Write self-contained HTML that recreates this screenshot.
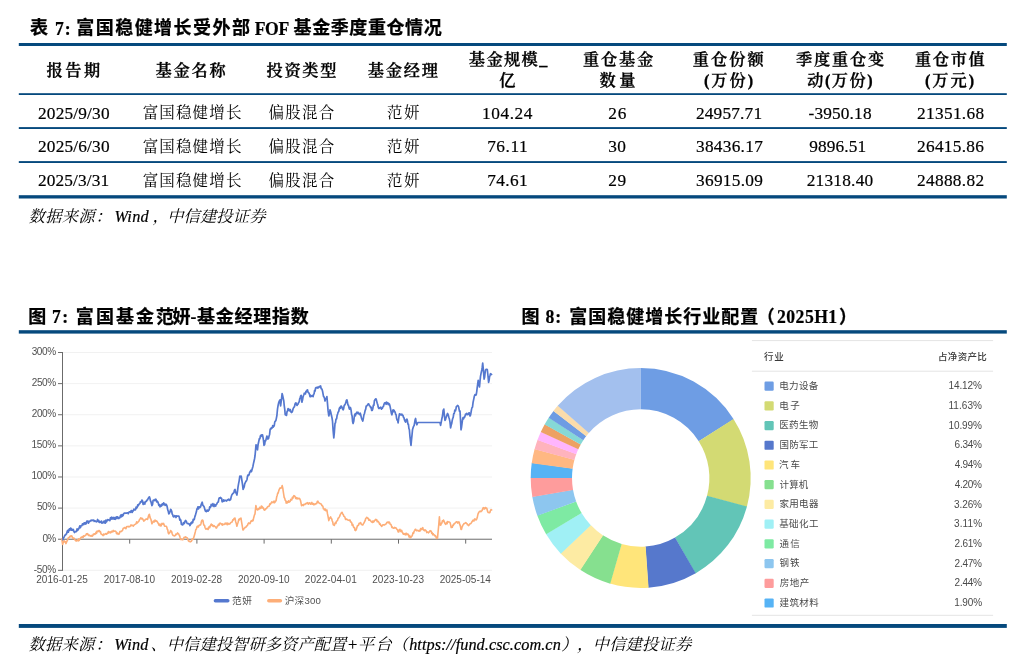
<!DOCTYPE html>
<html lang="zh-CN"><head><meta charset="utf-8"><title>富国稳健增长</title>
<style>html,body{margin:0;padding:0;background:#fff}body{width:1024px;height:660px;overflow:hidden}svg{display:block}text{white-space:pre}</style></head><body>
<svg width="1024" height="660" viewBox="0 0 1024 660">
<rect width="1024" height="660" fill="#fff"/>
<g id="rules">
<rect x="18.8" y="43.0" width="988.0" height="3.00" fill="#05497d"/>
<rect x="18.8" y="93.2" width="988.0" height="1.80" fill="#05497d"/>
<rect x="18.8" y="127.1" width="988.0" height="1.90" fill="#05497d"/>
<rect x="18.8" y="161.1" width="988.0" height="1.90" fill="#05497d"/>
<rect x="18.8" y="195.2" width="988.0" height="3.30" fill="#05497d"/>
<rect x="18.8" y="330.2" width="988.0" height="3.40" fill="#05497d"/>
<rect x="18.8" y="624.0" width="988.0" height="3.90" fill="#05497d"/>
</g>
<g id="linechart">
<line x1="63" x2="492" y1="352.50" y2="352.50" stroke="#efefef" stroke-width="0.9"/>
<line x1="63" x2="492" y1="383.62" y2="383.62" stroke="#efefef" stroke-width="0.9"/>
<line x1="63" x2="492" y1="414.74" y2="414.74" stroke="#efefef" stroke-width="0.9"/>
<line x1="63" x2="492" y1="445.86" y2="445.86" stroke="#efefef" stroke-width="0.9"/>
<line x1="63" x2="492" y1="476.98" y2="476.98" stroke="#efefef" stroke-width="0.9"/>
<line x1="63" x2="492" y1="508.10" y2="508.10" stroke="#efefef" stroke-width="0.9"/>
<line x1="63" x2="492" y1="570.34" y2="570.34" stroke="#efefef" stroke-width="0.9"/>
<line x1="62.5" x2="62.5" y1="352.00" y2="570.84" stroke="#6b6b6b" stroke-width="1"/>
<line x1="58" x2="62.5" y1="352.50" y2="352.50" stroke="#6b6b6b" stroke-width="1"/>
<line x1="58" x2="62.5" y1="383.62" y2="383.62" stroke="#6b6b6b" stroke-width="1"/>
<line x1="58" x2="62.5" y1="414.74" y2="414.74" stroke="#6b6b6b" stroke-width="1"/>
<line x1="58" x2="62.5" y1="445.86" y2="445.86" stroke="#6b6b6b" stroke-width="1"/>
<line x1="58" x2="62.5" y1="476.98" y2="476.98" stroke="#6b6b6b" stroke-width="1"/>
<line x1="58" x2="62.5" y1="508.10" y2="508.10" stroke="#6b6b6b" stroke-width="1"/>
<line x1="58" x2="62.5" y1="539.22" y2="539.22" stroke="#6b6b6b" stroke-width="1"/>
<line x1="58" x2="62.5" y1="570.34" y2="570.34" stroke="#6b6b6b" stroke-width="1"/>
<line x1="62" x2="492" y1="539.22" y2="539.22" stroke="#6b6b6b" stroke-width="1"/>
<line x1="62.50" x2="62.50" y1="539.22" y2="543.62" stroke="#6b6b6b" stroke-width="1"/>
<line x1="129.70" x2="129.70" y1="539.22" y2="543.62" stroke="#6b6b6b" stroke-width="1"/>
<line x1="196.90" x2="196.90" y1="539.22" y2="543.62" stroke="#6b6b6b" stroke-width="1"/>
<line x1="264.10" x2="264.10" y1="539.22" y2="543.62" stroke="#6b6b6b" stroke-width="1"/>
<line x1="331.30" x2="331.30" y1="539.22" y2="543.62" stroke="#6b6b6b" stroke-width="1"/>
<line x1="398.50" x2="398.50" y1="539.22" y2="543.62" stroke="#6b6b6b" stroke-width="1"/>
<line x1="465.70" x2="465.70" y1="539.22" y2="543.62" stroke="#6b6b6b" stroke-width="1"/>
<path d="M61.8 539.0 L62.6 544.5 L63.1 542.8 L63.6 541.2 L64.1 540.7 L64.7 542.0 L65.3 541.7 L65.9 543.6 L66.5 542.3 L67.2 540.6 L67.8 539.5 L68.3 537.7 L68.8 537.9 L69.2 537.6 L69.8 536.3 L70.2 536.9 L70.8 535.8 L71.2 536.4 L71.8 535.9 L72.3 537.1 L72.9 538.5 L73.4 538.2 L73.9 538.0 L74.5 538.8 L75.0 540.0 L75.5 540.4 L76.1 541.1 L76.7 540.4 L77.2 540.3 L77.7 539.9 L78.2 541.0 L78.7 538.8 L79.2 540.4 L79.7 539.4 L80.3 538.5 L80.8 537.7 L81.4 537.1 L82.0 537.5 L82.5 536.7 L83.1 537.5 L83.6 535.8 L84.2 536.3 L84.7 536.1 L85.3 535.2 L85.8 535.2 L86.4 533.8 L86.9 534.4 L87.4 533.7 L88.0 534.2 L88.5 535.5 L89.1 535.2 L89.6 535.1 L90.2 536.0 L90.7 535.9 L91.2 536.2 L91.8 535.4 L92.3 536.1 L92.9 535.5 L93.4 534.1 L93.9 534.4 L94.5 533.9 L95.0 534.3 L95.5 533.5 L96.1 532.2 L96.6 533.3 L97.1 531.0 L97.7 531.2 L98.2 531.6 L98.8 530.6 L99.3 530.5 L99.8 531.8 L100.4 531.5 L100.9 533.5 L101.4 534.3 L102.0 534.5 L102.5 535.0 L103.0 535.6 L103.6 534.1 L104.1 534.8 L104.6 534.3 L105.2 534.1 L105.7 533.6 L106.2 534.2 L106.8 534.2 L107.3 533.0 L107.9 533.1 L108.4 531.6 L108.9 532.8 L109.5 532.4 L110.0 531.9 L110.5 532.9 L111.1 532.4 L111.7 531.2 L112.2 531.3 L112.8 531.9 L113.3 530.4 L113.9 531.2 L114.4 531.2 L114.9 531.0 L115.5 531.3 L116.0 531.6 L116.5 533.6 L117.0 532.7 L117.6 533.4 L118.1 534.4 L118.7 533.5 L119.2 534.0 L119.8 531.6 L120.4 531.8 L120.9 531.4 L121.5 531.5 L122.1 530.7 L122.6 530.2 L123.2 528.2 L123.8 528.1 L124.3 527.8 L124.9 527.5 L125.4 528.5 L126.0 528.6 L126.5 526.7 L127.1 526.6 L127.6 526.6 L128.2 526.4 L128.8 526.9 L129.3 526.6 L129.9 526.6 L130.5 525.7 L131.0 524.9 L131.6 525.6 L132.2 525.2 L132.7 525.5 L133.3 526.1 L133.9 525.3 L134.4 524.7 L135.0 524.4 L135.6 524.1 L136.1 523.6 L136.7 521.7 L137.3 523.0 L137.8 522.2 L138.4 521.8 L139.0 521.0 L139.5 519.6 L140.1 519.0 L140.7 517.8 L141.2 518.1 L141.8 519.0 L142.2 518.4 L142.8 519.0 L143.2 520.0 L143.8 521.2 L144.3 520.2 L144.8 520.4 L145.4 519.5 L145.9 519.1 L146.4 519.2 L147.0 518.8 L147.5 519.4 L148.1 517.4 L148.8 515.0 L149.4 514.4 L149.9 517.1 L150.4 518.4 L150.9 519.2 L151.4 521.3 L151.9 523.8 L152.4 522.8 L152.9 522.2 L153.4 521.0 L154.0 522.0 L154.5 521.7 L155.0 520.0 L155.6 520.5 L156.1 521.2 L156.7 521.0 L157.2 521.6 L157.8 522.8 L158.3 523.2 L158.9 525.1 L159.4 524.2 L160.0 525.6 L160.5 524.2 L161.0 525.9 L161.5 524.6 L162.0 523.3 L162.5 523.8 L163.0 524.2 L163.6 523.4 L164.1 524.9 L164.6 526.2 L165.2 526.3 L165.7 526.3 L166.2 526.2 L166.8 527.2 L167.2 529.0 L167.8 530.0 L168.2 532.8 L168.8 533.8 L169.4 532.8 L170.0 532.3 L170.6 530.6 L171.1 531.1 L171.7 531.7 L172.2 533.8 L172.7 535.0 L173.2 535.5 L173.8 535.6 L174.3 536.0 L174.8 535.8 L175.4 535.4 L175.9 534.1 L176.5 534.5 L177.0 533.9 L177.6 532.9 L178.1 533.8 L178.6 533.7 L179.2 535.1 L179.7 536.0 L180.2 537.9 L180.7 539.5 L181.2 539.4 L181.8 539.0 L182.3 539.8 L182.9 539.7 L183.4 539.3 L183.9 537.7 L184.5 537.2 L185.0 537.5 L185.6 536.9 L186.2 537.5 L186.8 537.5 L187.4 538.1 L188.0 539.7 L188.5 540.9 L189.1 541.4 L189.7 541.2 L190.2 541.9 L190.8 541.6 L191.4 541.3 L192.0 539.1 L192.5 539.7 L193.1 538.8 L193.6 538.0 L194.2 536.0 L194.7 534.2 L195.3 531.9 L195.8 529.6 L196.4 529.2 L196.9 526.9 L197.4 526.2 L197.9 526.9 L198.4 527.0 L199.0 525.4 L199.5 525.1 L200.0 525.0 L200.5 525.0 L201.0 523.5 L201.5 521.3 L202.0 520.2 L202.5 520.0 L203.0 520.7 L203.5 523.9 L204.0 525.2 L204.5 525.2 L205.0 527.5 L205.5 528.5 L206.0 529.2 L206.6 528.8 L207.1 528.4 L207.6 529.2 L208.1 529.4 L208.6 527.7 L209.2 526.5 L209.7 527.7 L210.2 526.1 L210.7 525.0 L211.2 524.0 L211.8 525.4 L212.4 524.8 L212.9 526.2 L213.5 526.5 L214.0 525.6 L214.6 526.2 L215.1 526.7 L215.7 527.1 L216.2 528.1 L216.8 527.6 L217.3 526.1 L217.9 525.8 L218.4 524.4 L218.9 525.4 L219.5 523.5 L220.0 523.1 L220.5 523.2 L221.0 523.7 L221.6 524.6 L222.1 523.8 L222.6 525.1 L223.1 524.4 L223.6 524.4 L224.2 524.4 L224.7 524.3 L225.2 523.1 L225.8 524.0 L226.3 523.4 L226.8 523.0 L227.3 524.7 L227.9 523.2 L228.4 523.8 L228.9 524.3 L229.5 523.9 L230.0 523.8 L230.6 522.7 L231.1 522.5 L231.7 522.0 L232.2 521.9 L232.8 519.7 L233.3 520.1 L233.9 518.8 L234.4 518.2 L235.0 518.1 L235.6 521.4 L236.3 523.6 L236.9 526.2 L237.5 524.1 L238.1 522.3 L238.8 519.4 L239.3 520.0 L239.9 518.6 L240.4 518.7 L241.0 518.1 L241.6 522.1 L242.3 526.1 L242.9 530.0 L243.5 529.7 L244.1 528.5 L244.6 528.0 L245.2 527.2 L245.8 527.5 L246.4 526.3 L246.9 526.0 L247.5 525.4 L248.1 523.8 L248.7 522.9 L249.2 523.2 L249.8 523.7 L250.3 523.1 L250.9 521.2 L251.4 520.8 L252.0 521.2 L252.5 520.0 L253.1 520.6 L253.7 517.7 L254.4 515.1 L255.0 513.8 L255.4 510.0 L255.9 505.6 L256.4 507.7 L257.0 509.4 L257.5 510.0 L258.1 508.8 L258.6 509.5 L259.1 508.9 L259.7 507.3 L260.2 508.5 L260.8 508.2 L261.3 506.1 L261.9 506.2 L262.4 507.9 L262.9 507.3 L263.4 508.1 L264.0 509.8 L264.5 510.1 L265.0 510.0 L265.5 508.7 L266.1 508.8 L266.6 508.4 L267.1 507.5 L267.7 506.7 L268.2 506.4 L268.8 506.2 L269.2 506.1 L269.8 503.9 L270.2 504.5 L270.8 503.6 L271.2 503.1 L271.8 501.8 L272.3 502.3 L272.9 502.7 L273.4 502.2 L274.0 501.0 L274.5 502.8 L275.1 502.1 L275.6 501.2 L276.1 500.5 L276.7 496.8 L277.2 495.4 L277.7 493.1 L278.2 493.0 L278.8 490.6 L279.3 489.3 L279.9 488.1 L280.5 487.9 L281.1 488.2 L281.7 487.1 L282.2 485.6 L282.8 488.2 L283.2 491.1 L283.8 495.0 L284.2 497.5 L284.8 498.4 L285.2 500.3 L285.8 500.6 L286.2 503.1 L286.8 501.8 L287.4 502.8 L287.9 501.9 L288.5 500.8 L289.0 502.3 L289.6 501.3 L290.1 501.4 L290.7 499.4 L291.2 500.0 L291.8 499.9 L292.4 497.3 L292.9 498.2 L293.4 496.4 L294.0 495.6 L294.6 495.9 L295.2 497.0 L295.7 498.4 L296.3 497.6 L296.9 498.8 L297.4 498.0 L297.9 499.0 L298.4 498.5 L299.0 498.3 L299.5 498.5 L300.0 499.4 L300.5 500.5 L301.0 502.9 L301.5 505.6 L302.1 505.0 L302.7 504.8 L303.2 505.6 L303.8 504.3 L304.4 504.6 L305.0 504.4 L305.6 503.6 L306.1 503.8 L306.7 503.0 L307.3 503.4 L307.8 502.7 L308.4 504.2 L309.0 503.7 L309.5 502.8 L310.1 503.3 L310.7 504.2 L311.2 503.1 L311.8 502.4 L312.3 504.2 L312.9 503.5 L313.4 503.8 L313.9 504.8 L314.5 504.0 L315.0 504.4 L315.6 503.8 L316.2 503.6 L316.7 503.6 L317.3 501.5 L317.9 501.2 L318.5 502.6 L319.0 502.9 L319.6 503.4 L320.2 503.5 L320.8 504.0 L321.3 504.0 L321.9 505.6 L322.4 505.7 L322.9 506.4 L323.4 508.8 L323.9 508.6 L324.4 510.0 L324.9 509.3 L325.4 509.1 L325.9 510.8 L326.4 510.8 L326.9 510.0 L327.5 513.9 L328.1 516.6 L328.8 520.6 L329.4 518.8 L330.0 517.7 L330.6 516.9 L331.1 518.2 L331.7 518.8 L332.2 520.8 L332.7 521.8 L333.2 524.7 L333.8 525.0 L334.3 525.4 L334.8 523.8 L335.4 522.6 L335.9 523.5 L336.4 521.4 L337.0 520.9 L337.5 520.6 L338.1 518.3 L338.6 518.0 L339.2 517.1 L339.8 516.0 L340.4 514.2 L340.9 513.7 L341.5 512.5 L342.1 512.4 L342.7 514.0 L343.3 514.6 L343.8 516.2 L344.4 516.4 L345.0 517.4 L345.6 519.4 L346.2 519.0 L346.7 519.0 L347.2 519.8 L347.8 519.8 L348.4 520.3 L348.9 520.2 L349.4 520.4 L350.0 520.0 L350.6 521.9 L351.1 521.9 L351.7 522.8 L352.2 525.3 L352.8 524.5 L353.4 526.9 L353.9 527.7 L354.5 527.5 L355.0 530.3 L355.6 530.6 L356.2 529.8 L356.9 527.5 L357.5 525.6 L358.0 525.6 L358.5 525.3 L359.1 523.3 L359.6 523.6 L360.1 523.0 L360.6 522.5 L361.2 524.1 L361.9 524.8 L362.5 525.0 L363.0 524.7 L363.6 523.2 L364.1 522.9 L364.6 521.5 L365.2 520.5 L365.7 518.5 L366.2 518.1 L366.8 517.3 L367.3 517.8 L367.9 518.6 L368.4 518.3 L368.9 520.2 L369.5 519.9 L370.0 520.0 L370.5 520.8 L371.0 521.3 L371.5 521.9 L372.0 522.0 L372.5 522.5 L373.0 520.9 L373.5 522.1 L374.1 521.5 L374.6 520.4 L375.1 520.0 L375.6 519.4 L376.2 520.4 L376.7 519.7 L377.3 521.8 L377.9 521.3 L378.4 521.6 L379.0 522.6 L379.6 524.2 L380.1 523.7 L380.7 525.5 L381.2 525.6 L381.8 526.4 L382.4 525.2 L382.9 524.7 L383.5 524.7 L384.0 525.0 L384.6 525.0 L385.1 524.4 L385.7 524.3 L386.2 523.8 L386.8 522.5 L387.4 522.2 L387.9 522.1 L388.4 522.8 L389.0 521.9 L389.6 522.6 L390.2 524.3 L390.7 524.2 L391.3 525.4 L391.9 527.5 L392.4 527.1 L393.0 528.0 L393.5 528.1 L394.1 528.2 L394.6 527.4 L395.2 528.0 L395.7 527.9 L396.2 528.1 L396.9 529.3 L397.5 529.8 L398.1 531.9 L398.7 531.9 L399.4 529.6 L400.0 529.4 L400.6 531.1 L401.1 531.6 L401.6 530.2 L402.2 531.8 L402.8 533.2 L403.3 534.2 L403.8 533.7 L404.4 534.4 L404.9 533.8 L405.4 533.5 L405.9 535.0 L406.4 533.2 L406.9 533.8 L407.5 534.5 L408.0 534.0 L408.6 535.4 L409.1 536.9 L409.7 535.6 L410.2 537.7 L410.8 537.5 L411.4 536.5 L411.9 536.3 L412.5 534.9 L413.0 532.8 L413.6 533.2 L414.1 531.3 L414.7 530.3 L415.2 529.4 L415.8 529.4 L416.3 530.6 L416.9 530.7 L417.4 530.5 L417.9 530.2 L418.5 530.8 L419.0 531.2 L419.5 530.3 L420.1 530.9 L420.6 528.6 L421.1 529.7 L421.7 529.4 L422.2 528.1 L422.8 527.7 L423.3 529.9 L423.9 529.9 L424.5 530.7 L425.1 529.8 L425.6 530.4 L426.2 530.9 L426.8 532.6 L427.4 532.1 L427.9 532.1 L428.5 532.8 L429.0 532.3 L429.6 531.5 L430.1 530.6 L430.6 531.2 L431.1 531.0 L431.7 533.2 L432.2 532.7 L432.7 534.7 L433.2 533.8 L433.8 535.0 L434.3 534.9 L434.8 535.9 L435.4 535.6 L435.9 536.5 L436.4 538.2 L437.0 538.5 L437.5 538.1 L438.1 531.7 L438.8 524.3 L439.4 516.9 L439.8 521.9 L440.2 525.0 L440.8 525.1 L441.3 523.4 L441.9 523.0 L442.4 520.7 L443.0 521.3 L443.5 520.0 L444.0 521.0 L444.6 522.8 L445.1 523.6 L445.6 524.4 L446.1 523.4 L446.6 522.4 L447.1 523.8 L447.6 521.6 L448.1 521.9 L448.7 522.0 L449.4 522.0 L450.0 522.5 L450.6 524.6 L451.2 527.5 L451.8 527.4 L452.3 527.3 L452.9 525.1 L453.4 525.3 L453.9 523.9 L454.5 523.9 L455.0 523.1 L455.5 522.7 L456.1 522.0 L456.6 521.8 L457.1 521.8 L457.7 523.1 L458.2 522.1 L458.8 521.9 L459.2 522.3 L459.8 524.9 L460.2 525.0 L461.0 529.4 L461.5 529.4 L462.0 527.2 L462.5 526.2 L463.1 524.8 L463.6 524.3 L464.1 523.5 L464.7 523.4 L465.2 523.1 L465.8 522.6 L466.4 523.3 L467.0 523.7 L467.5 524.8 L468.1 525.0 L468.6 525.6 L469.1 525.0 L469.6 524.1 L470.1 523.8 L470.6 523.8 L471.1 523.2 L471.7 522.2 L472.2 521.5 L472.8 520.3 L473.3 520.2 L473.9 521.1 L474.4 519.4 L475.0 518.8 L475.6 519.8 L476.2 520.0 L476.8 518.8 L477.2 517.8 L477.8 514.9 L478.2 513.5 L478.8 512.5 L479.3 511.5 L479.8 511.4 L480.4 511.1 L480.9 511.7 L481.4 511.1 L482.0 510.7 L482.5 509.4 L483.0 508.0 L483.5 507.7 L484.1 508.9 L484.6 509.0 L485.1 507.8 L485.6 507.5 L486.1 508.5 L486.7 508.1 L487.2 509.8 L487.7 511.8 L488.2 512.4 L488.8 512.5 L489.3 512.8 L489.9 512.5 L490.5 510.4 L491.0 509.6 L491.6 510.0" fill="none" stroke="#fdae78" stroke-width="1.6" stroke-linejoin="round" stroke-linecap="round"/>
<path d="M63.0 539.6 L63.5 537.7 L63.9 537.5 L64.4 536.3 L64.9 535.2 L65.5 535.2 L66.0 534.2 L66.6 533.8 L67.2 531.4 L67.7 530.5 L68.3 532.2 L68.9 529.7 L69.4 528.8 L70.0 530.3 L70.6 528.1 L71.1 528.5 L71.7 530.1 L72.2 529.5 L72.8 530.4 L73.3 529.4 L73.9 531.4 L74.5 532.5 L75.0 531.9 L75.5 531.5 L76.1 531.7 L76.6 531.1 L77.1 528.8 L77.7 530.4 L78.2 529.5 L78.8 528.8 L79.3 527.4 L79.8 525.9 L80.4 527.7 L80.9 525.8 L81.4 525.8 L82.0 525.6 L82.5 523.8 L83.0 524.2 L83.6 524.7 L84.1 522.9 L84.6 523.9 L85.2 522.7 L85.7 524.0 L86.2 523.6 L86.8 521.1 L87.3 521.1 L87.9 521.1 L88.4 523.2 L88.9 521.4 L89.5 521.8 L90.0 521.2 L90.5 520.4 L91.0 520.9 L91.5 520.3 L92.1 520.0 L92.6 520.5 L93.1 520.0 L93.7 520.3 L94.2 521.3 L94.8 520.7 L95.4 521.5 L95.9 521.4 L96.5 521.8 L97.1 520.9 L97.6 519.5 L98.2 521.6 L98.8 520.6 L99.3 522.3 L99.8 522.4 L100.4 521.6 L100.9 522.3 L101.5 521.1 L102.0 523.2 L102.6 522.7 L103.1 522.8 L103.7 521.8 L104.2 520.9 L104.8 523.0 L105.4 523.1 L105.9 520.1 L106.5 522.0 L107.1 520.6 L107.6 519.5 L108.2 519.7 L108.8 520.0 L109.3 520.5 L109.9 520.6 L110.4 517.8 L111.0 519.2 L111.5 517.2 L112.1 519.0 L112.6 517.5 L113.2 518.9 L113.8 517.5 L114.3 519.1 L114.9 517.7 L115.4 519.3 L116.0 517.4 L116.5 516.8 L117.1 518.5 L117.6 516.9 L118.2 517.5 L118.8 518.5 L119.3 517.7 L119.9 517.7 L120.4 515.8 L121.0 514.9 L121.5 516.8 L122.1 514.6 L122.6 516.0 L123.2 515.2 L123.8 513.5 L124.3 513.0 L124.9 513.1 L125.5 513.1 L126.0 513.3 L126.6 513.1 L127.2 512.8 L127.7 512.8 L128.3 513.7 L128.9 512.2 L129.4 511.8 L130.0 511.9 L130.6 512.3 L131.1 510.7 L131.7 510.7 L132.2 512.5 L132.8 510.9 L133.3 510.8 L133.9 509.0 L134.4 510.0 L135.0 510.0 L135.6 509.5 L136.1 507.0 L136.7 508.0 L137.2 507.3 L137.8 504.8 L138.3 505.7 L138.8 504.4 L139.4 503.8 L139.9 503.5 L140.4 501.8 L140.9 502.1 L141.4 501.5 L141.9 500.0 L142.5 500.8 L143.1 504.4 L143.7 502.5 L144.2 503.8 L144.8 504.1 L145.3 501.5 L145.8 501.5 L146.4 501.4 L146.9 500.0 L147.5 500.0 L148.1 498.6 L148.8 497.4 L149.4 496.9 L149.9 498.2 L150.4 500.7 L150.9 501.5 L151.4 503.5 L151.9 505.6 L152.5 504.6 L153.1 500.4 L153.8 500.0 L154.2 500.2 L154.8 500.7 L155.2 499.4 L155.8 499.2 L156.2 500.0 L156.8 501.9 L157.3 501.2 L157.9 502.0 L158.4 503.7 L158.9 505.5 L159.5 504.7 L160.0 506.9 L160.5 505.7 L161.0 505.1 L161.5 506.0 L162.0 504.2 L162.5 503.8 L163.0 504.9 L163.6 502.9 L164.1 503.5 L164.6 504.6 L165.2 505.4 L165.7 504.2 L166.2 504.4 L166.8 505.4 L167.2 507.0 L167.8 510.1 L168.2 511.0 L168.8 513.8 L169.4 513.2 L170.0 511.9 L170.6 509.4 L171.1 509.7 L171.7 511.2 L172.2 514.1 L172.7 514.8 L173.2 516.6 L173.8 516.9 L174.3 516.4 L174.9 515.6 L175.4 516.1 L176.0 517.5 L176.5 515.9 L177.1 516.0 L177.6 516.1 L178.2 516.1 L178.8 516.2 L179.3 517.3 L179.8 520.2 L180.3 519.3 L180.8 520.2 L181.4 524.4 L181.9 524.4 L182.4 525.0 L182.9 524.8 L183.4 522.6 L184.0 523.7 L184.5 523.1 L185.0 521.2 L185.6 520.4 L186.2 521.2 L186.8 522.6 L187.3 523.5 L187.9 523.6 L188.4 523.8 L188.9 523.7 L189.5 524.5 L190.0 525.6 L190.5 524.0 L191.1 522.7 L191.6 523.5 L192.1 521.8 L192.7 522.5 L193.2 519.4 L193.8 520.0 L194.3 519.3 L194.8 516.8 L195.3 515.6 L195.8 513.7 L196.4 511.8 L196.9 508.8 L197.4 508.8 L197.9 506.9 L198.4 508.9 L199.0 506.9 L199.5 507.1 L200.0 507.5 L200.6 506.7 L201.1 504.9 L201.7 503.3 L202.2 502.2 L202.8 505.1 L203.3 505.7 L203.9 506.4 L204.4 507.7 L205.0 510.0 L205.5 511.3 L206.0 510.3 L206.6 511.5 L207.1 510.4 L207.6 510.1 L208.1 511.2 L208.6 510.2 L209.2 509.9 L209.7 506.8 L210.2 507.6 L210.7 506.8 L211.2 504.4 L211.8 505.5 L212.3 505.8 L212.9 503.6 L213.4 505.7 L214.0 506.6 L214.5 504.4 L215.1 505.3 L215.6 506.2 L216.2 504.5 L216.7 504.3 L217.2 503.0 L217.8 502.1 L218.3 502.0 L218.9 498.6 L219.4 497.8 L220.0 498.1 L220.5 497.5 L221.0 498.0 L221.6 498.4 L222.1 501.6 L222.6 501.8 L223.1 501.2 L223.6 499.9 L224.2 501.1 L224.7 500.4 L225.2 500.3 L225.8 500.3 L226.3 501.1 L226.8 500.8 L227.3 500.1 L227.9 499.5 L228.4 499.8 L228.9 499.1 L229.5 500.3 L230.0 500.0 L230.6 499.5 L231.1 497.3 L231.7 495.2 L232.2 494.3 L232.8 493.7 L233.3 493.2 L233.9 492.6 L234.4 490.2 L235.0 489.4 L235.6 492.2 L236.3 493.5 L236.9 495.0 L237.5 491.0 L238.0 487.1 L238.6 483.7 L239.2 480.6 L239.8 476.2 L240.2 476.0 L240.8 476.8 L241.2 476.2 L241.9 480.5 L242.5 484.3 L243.1 489.4 L243.7 487.9 L244.2 486.8 L244.8 483.3 L245.3 482.8 L245.9 481.2 L246.4 480.9 L247.0 479.5 L247.5 476.2 L248.1 475.0 L248.6 475.5 L249.2 474.4 L249.7 472.1 L250.3 472.0 L250.8 470.3 L251.4 471.7 L251.9 470.0 L252.4 468.2 L252.9 466.5 L253.4 463.9 L254.0 461.2 L254.5 459.0 L255.0 456.0 L255.5 450.6 L256.0 444.8 L256.5 445.2 L257.0 448.3 L257.5 449.8 L258.1 444.5 L258.8 441.2 L259.4 438.5 L259.9 438.7 L260.4 435.9 L260.9 435.4 L261.5 434.8 L262.0 436.5 L262.5 434.8 L263.0 437.3 L263.5 440.4 L264.0 445.4 L264.6 444.5 L265.2 440.5 L265.7 440.8 L266.3 438.4 L266.9 436.0 L267.4 437.8 L268.0 439.0 L268.5 438.5 L269.0 436.2 L269.6 434.4 L270.1 429.6 L270.6 428.5 L271.1 428.9 L271.7 427.7 L272.2 427.9 L272.7 425.7 L273.2 427.2 L273.8 426.0 L274.2 425.9 L274.8 421.9 L275.2 421.3 L275.8 420.7 L276.2 419.1 L276.9 415.5 L277.5 409.2 L278.1 405.4 L278.7 402.6 L279.4 400.9 L280.0 399.8 L280.6 406.0 L281.1 402.2 L281.6 398.4 L282.1 393.5 L282.7 395.7 L283.2 398.1 L283.8 401.0 L284.2 405.3 L284.8 409.7 L285.2 414.8 L285.9 414.8 L286.5 415.4 L287.0 411.8 L287.6 410.8 L288.1 408.5 L288.6 410.5 L289.2 409.3 L289.7 410.8 L290.3 409.6 L290.8 411.8 L291.4 412.5 L291.9 412.2 L292.4 411.4 L292.9 409.6 L293.4 408.1 L294.0 407.2 L294.5 406.7 L295.0 404.1 L295.5 403.0 L296.0 402.9 L296.6 404.8 L297.1 405.3 L297.6 404.2 L298.1 404.1 L298.6 402.5 L299.2 401.9 L299.7 398.8 L300.2 397.6 L300.7 395.9 L301.2 395.4 L301.9 402.2 L302.5 400.0 L303.1 396.7 L303.8 394.8 L304.3 393.2 L304.8 393.9 L305.4 394.0 L305.9 391.3 L306.4 391.8 L307.0 390.2 L307.5 389.8 L308.0 392.2 L308.5 392.7 L309.0 393.2 L309.5 394.4 L310.0 396.6 L310.5 395.2 L311.0 396.5 L311.6 396.2 L312.1 395.6 L312.6 396.2 L313.1 396.6 L313.6 394.3 L314.1 393.9 L314.6 390.3 L315.1 391.1 L315.6 387.9 L316.2 387.6 L316.7 387.8 L317.3 387.2 L317.8 388.1 L318.4 387.8 L318.9 386.8 L319.5 386.4 L320.0 386.9 L320.6 386.0 L321.2 388.7 L321.9 389.0 L322.5 391.0 L323.0 393.7 L323.5 396.4 L324.0 396.9 L324.5 398.2 L325.0 401.0 L325.6 398.7 L326.3 398.7 L326.9 396.6 L327.5 403.6 L328.1 410.9 L328.8 416.0 L329.4 413.9 L330.0 409.8 L330.5 411.2 L331.0 413.3 L331.5 415.8 L332.0 417.8 L332.5 421.0 L333.1 430.1 L333.8 437.9 L334.4 431.8 L335.0 423.5 L335.5 422.8 L336.0 419.0 L336.6 419.0 L337.1 415.4 L337.6 413.9 L338.1 412.2 L338.7 411.7 L339.3 408.5 L339.8 407.3 L340.4 408.3 L341.0 406.0 L341.5 406.3 L342.1 407.4 L342.6 409.1 L343.1 409.8 L343.6 408.8 L344.2 405.4 L344.7 405.0 L345.3 403.8 L345.8 402.6 L346.4 400.3 L346.9 399.8 L347.4 401.9 L347.9 404.9 L348.4 405.0 L348.9 407.4 L349.4 409.1 L350.0 407.4 L350.6 407.9 L351.1 410.3 L351.6 414.6 L352.1 416.1 L352.6 421.5 L353.1 423.5 L353.8 421.0 L354.4 416.0 L354.9 414.0 L355.4 415.8 L355.9 413.4 L356.4 413.8 L356.9 412.2 L357.4 413.3 L358.0 412.2 L358.5 413.6 L359.0 413.8 L359.5 414.5 L360.1 413.1 L360.6 414.1 L361.1 416.6 L361.7 418.9 L362.2 419.8 L362.8 421.0 L363.3 418.6 L363.9 414.8 L364.5 413.5 L365.1 410.6 L365.7 409.2 L366.2 406.0 L366.9 405.9 L367.5 404.9 L368.1 404.1 L368.7 403.8 L369.4 405.8 L370.0 406.0 L370.6 407.5 L371.1 407.2 L371.7 410.5 L372.2 410.4 L372.8 408.7 L373.4 405.0 L373.9 405.3 L374.4 400.8 L375.0 399.8 L375.6 398.9 L376.2 399.1 L376.8 401.6 L377.2 403.2 L377.8 404.9 L378.2 407.1 L378.8 408.5 L379.3 408.4 L379.8 407.9 L380.3 407.5 L380.8 407.2 L381.4 409.1 L381.9 408.5 L382.4 408.3 L382.9 406.8 L383.4 406.4 L384.0 404.3 L384.5 403.1 L385.0 402.9 L385.6 402.7 L386.1 404.3 L386.6 402.0 L387.2 403.5 L387.8 402.9 L388.3 404.6 L388.8 403.5 L389.4 404.1 L389.9 405.7 L390.4 408.1 L390.9 410.6 L391.4 413.4 L391.9 414.8 L392.5 411.8 L393.1 409.8 L393.6 411.7 L394.1 410.3 L394.6 411.7 L395.1 412.0 L395.6 414.1 L396.1 414.7 L396.6 418.5 L397.1 420.1 L397.6 420.2 L398.1 422.9 L398.8 417.6 L399.4 414.1 L399.9 413.8 L400.4 414.8 L400.9 415.0 L401.4 414.8 L401.9 414.1 L402.4 415.5 L403.0 415.4 L403.5 417.3 L404.0 417.8 L404.5 420.0 L405.1 421.3 L405.6 422.2 L406.2 419.8 L406.9 419.1 L407.4 420.5 L407.9 424.2 L408.4 424.1 L408.9 428.5 L409.4 429.8 L409.9 436.1 L410.5 441.5 L411.0 445.4 L411.5 439.8 L412.0 435.1 L412.5 429.8 L413.0 428.1 L413.5 426.4 L414.1 425.6 L414.6 422.8 L415.1 419.8 L415.6 418.5 L416.2 422.7 L416.9 424.8 L417.3 423.6 L417.8 422.5 L418.3 422.5 L418.9 422.5 L419.4 422.5 L420.0 422.5 L420.5 422.5 L421.1 422.5 L421.6 422.5 L422.2 422.5 L422.8 422.5 L423.3 422.5 L423.9 422.5 L424.4 422.5 L425.0 422.5 L425.5 422.5 L426.1 422.5 L426.6 422.5 L427.2 422.5 L427.8 422.5 L428.3 422.5 L428.9 422.5 L429.4 422.5 L430.0 422.5 L430.5 422.5 L431.1 422.5 L431.7 422.5 L432.2 422.5 L432.8 422.5 L433.3 422.5 L433.9 422.5 L434.4 422.5 L435.0 422.5 L435.6 422.5 L436.1 422.5 L436.7 422.5 L437.2 422.5 L437.8 422.5 L438.3 422.5 L438.9 422.5 L439.4 422.5 L440.0 422.5 L440.6 425.4 L441.2 422.3 L441.9 418.5 L442.5 416.0 L443.1 410.7 L443.8 409.1 L444.4 415.6 L445.0 420.4 L445.5 419.5 L446.0 417.6 L446.5 416.3 L447.0 414.8 L447.5 413.5 L448.1 414.4 L448.8 417.3 L449.4 419.1 L450.0 422.1 L450.6 427.9 L451.1 425.5 L451.7 423.5 L452.2 420.5 L452.7 418.5 L453.2 417.3 L453.8 413.5 L454.3 413.5 L454.8 410.1 L455.4 410.9 L455.9 409.2 L456.4 406.4 L457.0 406.1 L457.5 405.4 L458.0 405.7 L458.5 406.4 L459.0 408.9 L459.5 411.2 L460.0 411.0 L460.5 419.8 L461.0 429.8 L461.5 427.5 L462.0 423.7 L462.5 419.8 L463.0 417.7 L463.5 418.9 L464.1 417.2 L464.6 417.3 L465.1 415.7 L465.6 414.1 L466.1 414.6 L466.7 413.3 L467.2 414.5 L467.8 414.7 L468.3 414.3 L468.9 412.9 L469.4 412.9 L470.0 416.0 L470.5 415.0 L471.0 412.5 L471.5 409.6 L472.0 407.6 L472.5 407.2 L473.1 402.2 L473.8 398.9 L474.4 396.0 L475.0 394.6 L475.6 395.2 L476.2 394.8 L476.7 391.8 L477.2 387.7 L477.7 383.8 L478.2 380.4 L478.9 384.1 L479.5 387.0 L480.0 381.1 L480.5 376.4 L481.1 373.1 L481.8 370.0 L482.2 367.4 L482.7 363.2 L483.2 368.2 L483.6 372.8 L484.1 379.1 L484.6 377.3 L485.0 373.7 L485.5 370.0 L486.1 369.4 L486.7 369.3 L487.3 369.5 L488.0 376.0 L488.6 382.3 L489.1 380.3 L489.5 376.9 L490.0 375.5 L490.5 373.7 L491.1 374.0 L491.6 374.5" fill="none" stroke="#5578cf" stroke-width="1.7" stroke-linejoin="round" stroke-linecap="round"/>
<line x1="215.4" x2="227.8" y1="600.7" y2="600.7" stroke="#5578cf" stroke-width="3.5" stroke-linecap="round"/>
<line x1="268.8" x2="280.4" y1="600.7" y2="600.7" stroke="#fdae78" stroke-width="3.5" stroke-linecap="round"/>
</g>
<g id="donut">
<path d="M640.41 368.00 A110.0 110.0 0 0 1 733.68 419.22 L698.77 441.29 A68.7 68.7 0 0 0 640.52 409.30 Z" fill="#6e9de4"/>
<path d="M733.52 418.97 A110.0 110.0 0 0 1 746.84 506.88 L706.99 496.04 A68.7 68.7 0 0 0 698.67 441.14 Z" fill="#d3da73"/>
<path d="M746.92 506.60 A110.0 110.0 0 0 1 695.48 573.39 L674.92 537.57 A68.7 68.7 0 0 0 707.04 495.86 Z" fill="#62c5b7"/>
<path d="M695.73 573.24 A110.0 110.0 0 0 1 648.30 587.74 L645.45 546.54 A68.7 68.7 0 0 0 675.07 537.48 Z" fill="#5678cc"/>
<path d="M648.59 587.72 A110.0 110.0 0 0 1 609.97 583.62 L621.51 543.96 A68.7 68.7 0 0 0 645.63 546.52 Z" fill="#ffe57a"/>
<path d="M610.25 583.70 A110.0 110.0 0 0 1 580.17 569.85 L602.90 535.36 A68.7 68.7 0 0 0 621.68 544.01 Z" fill="#86e08f"/>
<path d="M580.41 570.01 A110.0 110.0 0 0 1 560.64 553.43 L590.70 525.11 A68.7 68.7 0 0 0 603.05 535.46 Z" fill="#fdeba3"/>
<path d="M560.83 553.64 A110.0 110.0 0 0 1 546.00 533.97 L581.56 512.96 A68.7 68.7 0 0 0 590.82 525.24 Z" fill="#a0f0f5"/>
<path d="M546.15 534.22 A110.0 110.0 0 0 1 537.28 515.48 L576.11 501.41 A68.7 68.7 0 0 0 581.65 513.11 Z" fill="#7eeaa3"/>
<path d="M537.38 515.75 A110.0 110.0 0 0 1 532.31 496.78 L573.01 489.73 A68.7 68.7 0 0 0 576.17 501.58 Z" fill="#8dc6ef"/>
<path d="M532.36 497.06 A110.0 110.0 0 0 1 530.70 477.73 L572.00 477.83 A68.7 68.7 0 0 0 573.04 489.90 Z" fill="#fe9c9c"/>
<path d="M530.70 478.01 A110.0 110.0 0 0 1 531.75 462.87 L572.65 468.55 A68.7 68.7 0 0 0 572.00 478.01 Z" fill="#56b3f5"/>
<path d="M531.71 463.15 A110.0 110.0 0 0 1 534.62 448.88 L574.45 459.81 A68.7 68.7 0 0 0 572.63 468.73 Z" fill="#ffb882"/>
<path d="M534.55 449.16 A110.0 110.0 0 0 1 537.60 439.66 L576.31 454.05 A68.7 68.7 0 0 0 574.40 459.99 Z" fill="#ffb3bd"/>
<path d="M537.50 439.93 A110.0 110.0 0 0 1 540.93 431.69 L578.39 449.07 A68.7 68.7 0 0 0 576.25 454.22 Z" fill="#ffb5fd"/>
<path d="M540.80 431.95 A110.0 110.0 0 0 1 544.77 424.17 L580.79 444.38 A68.7 68.7 0 0 0 578.31 449.24 Z" fill="#eda163"/>
<path d="M544.63 424.42 A110.0 110.0 0 0 1 548.87 417.45 L583.35 440.18 A68.7 68.7 0 0 0 580.70 444.54 Z" fill="#86d8d6"/>
<path d="M548.71 417.69 A110.0 110.0 0 0 1 553.55 410.88 L586.27 436.08 A68.7 68.7 0 0 0 583.25 440.33 Z" fill="#6e9ce3"/>
<path d="M553.37 411.11 A110.0 110.0 0 0 1 557.93 405.54 L589.01 432.75 A68.7 68.7 0 0 0 586.16 436.23 Z" fill="#fbdcab"/>
<path d="M557.74 405.76 A110.0 110.0 0 0 1 640.70 368.00 L640.70 409.30 A68.7 68.7 0 0 0 588.89 432.88 Z" fill="#a3c0ee"/>
</g>
<g id="pielegend">
<line x1="751.9" x2="993.1" y1="340.6" y2="340.6" stroke="#e4e4e4" stroke-width="1"/>
<line x1="751.9" x2="993.1" y1="371.2" y2="371.2" stroke="#e4e4e4" stroke-width="1"/>
<line x1="751.9" x2="993.1" y1="615.3" y2="615.3" stroke="#e4e4e4" stroke-width="1"/>
<rect x="764.5" y="381.50" width="9.2" height="9.2" rx="1.2" fill="#6e9de4"/>
<rect x="764.5" y="401.22" width="9.2" height="9.2" rx="1.2" fill="#d3da73"/>
<rect x="764.5" y="420.94" width="9.2" height="9.2" rx="1.2" fill="#62c5b7"/>
<rect x="764.5" y="440.66" width="9.2" height="9.2" rx="1.2" fill="#5678cc"/>
<rect x="764.5" y="460.38" width="9.2" height="9.2" rx="1.2" fill="#ffe57a"/>
<rect x="764.5" y="480.10" width="9.2" height="9.2" rx="1.2" fill="#86e08f"/>
<rect x="764.5" y="499.82" width="9.2" height="9.2" rx="1.2" fill="#fdeba3"/>
<rect x="764.5" y="519.54" width="9.2" height="9.2" rx="1.2" fill="#a0f0f5"/>
<rect x="764.5" y="539.26" width="9.2" height="9.2" rx="1.2" fill="#7eeaa3"/>
<rect x="764.5" y="558.98" width="9.2" height="9.2" rx="1.2" fill="#8dc6ef"/>
<rect x="764.5" y="578.70" width="9.2" height="9.2" rx="1.2" fill="#fe9c9c"/>
<rect x="764.5" y="598.42" width="9.2" height="9.2" rx="1.2" fill="#56b3f5"/>
</g>
<g id="texts">
<text id="t1a" font-family='"Liberation Serif","Noto Sans CJK SC",sans-serif' font-size="18.0" fill="#000" stroke="#000" stroke-width="0.25" font-weight="bold" x="30.04" y="34.40">表</text>
<text id="t1b" font-family='"Liberation Serif","Noto Sans CJK SC",sans-serif' font-size="19.6" fill="#000" stroke="#000" stroke-width="0.25" font-weight="bold" textLength="17.40" lengthAdjust="spacing" transform="translate(54.90 34.50) scale(0.9 1)">7:</text>
<text id="t1c" font-family='"Liberation Serif","Noto Sans CJK SC",sans-serif' font-size="18.0" fill="#000" stroke="#000" stroke-width="0.25" font-weight="bold" textLength="173.59" lengthAdjust="spacing" x="76.31" y="34.40">富国稳健增长受外部</text>
<text id="t1d" font-family='"Liberation Serif","Noto Sans CJK SC",sans-serif' font-size="19.6" fill="#000" stroke="#000" stroke-width="0.25" font-weight="bold" textLength="38.51" lengthAdjust="spacing" transform="translate(254.65 34.50) scale(0.9 1)">FOF</text>
<text id="t1e" font-family='"Liberation Serif","Noto Sans CJK SC",sans-serif' font-size="18.0" fill="#000" stroke="#000" stroke-width="0.25" font-weight="bold" textLength="148.10" lengthAdjust="spacing" x="293.59" y="34.40">基金季度重仓情况</text>
<text id="t2a" font-family='"Liberation Serif","Noto Sans CJK SC",sans-serif' font-size="18.0" fill="#000" stroke="#000" stroke-width="0.25" font-weight="bold" x="28.13" y="322.90">图</text>
<text id="t2b" font-family='"Liberation Serif","Noto Sans CJK SC",sans-serif' font-size="19.6" fill="#000" stroke="#000" stroke-width="0.25" font-weight="bold" textLength="17.92" lengthAdjust="spacing" transform="translate(51.92 323.00) scale(0.9 1)">7:</text>
<text id="t2c" font-family='"Liberation Serif","Noto Sans CJK SC",sans-serif' font-size="18.0" fill="#000" stroke="#000" stroke-width="0.25" font-weight="bold" textLength="98.29" lengthAdjust="spacing" x="75.82" y="322.90">富国基金范</text>
<text id="t2d" font-family='"Liberation Serif","Noto Sans CJK SC",sans-serif' font-size="18.0" fill="#000" stroke="#000" stroke-width="0.25" font-weight="bold" x="172.59" y="322.90">妍</text>
<text id="t2e" font-family='"Liberation Serif","Noto Sans CJK SC",sans-serif' font-size="19.6" fill="#000" stroke="#000" stroke-width="0.25" font-weight="bold" transform="translate(190.47 323.00) scale(0.9 1)">-</text>
<text id="t2f" font-family='"Liberation Serif","Noto Sans CJK SC",sans-serif' font-size="18.0" fill="#000" stroke="#000" stroke-width="0.25" font-weight="bold" textLength="111.72" lengthAdjust="spacing" x="196.99" y="322.90">基金经理指数</text>
<text id="t3a" font-family='"Liberation Serif","Noto Sans CJK SC",sans-serif' font-size="18.0" fill="#000" stroke="#000" stroke-width="0.25" font-weight="bold" x="521.56" y="322.90">图</text>
<text id="t3b" font-family='"Liberation Serif","Noto Sans CJK SC",sans-serif' font-size="19.6" fill="#000" stroke="#000" stroke-width="0.25" font-weight="bold" textLength="17.32" lengthAdjust="spacing" transform="translate(545.46 323.00) scale(0.9 1)">8:</text>
<text id="t3c" font-family='"Liberation Serif","Noto Sans CJK SC",sans-serif' font-size="18.0" fill="#000" stroke="#000" stroke-width="0.25" font-weight="bold" textLength="188.84" lengthAdjust="spacing" x="569.31" y="322.90">富国稳健增长行业配置</text>
<text id="t3d" font-family='"Liberation Serif","Noto Sans CJK SC",sans-serif' font-size="18.0" fill="#000" stroke="#000" stroke-width="0.25" font-weight="bold" x="756.78" y="322.90">（</text>
<text id="t3e" font-family='"Liberation Serif","Noto Sans CJK SC",sans-serif' font-size="19.6" fill="#000" stroke="#000" stroke-width="0.25" font-weight="bold" textLength="66.83" lengthAdjust="spacing" transform="translate(777.03 323.00) scale(0.9 1)">2025H1</text>
<text id="t3f" font-family='"Liberation Serif","Noto Sans CJK SC",sans-serif' font-size="18.0" fill="#000" stroke="#000" stroke-width="0.25" font-weight="bold" x="839.11" y="322.90">）</text>
<text id="h1" font-family='"Liberation Serif","Noto Serif CJK SC",serif' font-size="16.2" fill="#000" stroke="#000" stroke-width="0.3" font-weight="600" textLength="53.82" lengthAdjust="spacing" x="46.48" y="75.80">报告期</text>
<text id="h2" font-family='"Liberation Serif","Noto Serif CJK SC",serif' font-size="16.2" fill="#000" stroke="#000" stroke-width="0.3" font-weight="600" textLength="70.22" lengthAdjust="spacing" x="155.43" y="75.80">基金名称</text>
<text id="h3" font-family='"Liberation Serif","Noto Serif CJK SC",serif' font-size="16.2" fill="#000" stroke="#000" stroke-width="0.3" font-weight="600" textLength="70.15" lengthAdjust="spacing" x="266.39" y="75.80">投资类型</text>
<text id="h4" font-family='"Liberation Serif","Noto Serif CJK SC",serif' font-size="16.2" fill="#000" stroke="#000" stroke-width="0.3" font-weight="600" textLength="70.23" lengthAdjust="spacing" x="367.79" y="75.80">基金经理</text>
<text id="h5a" font-family='"Liberation Serif","Noto Serif CJK SC",serif' font-size="16.2" fill="#000" stroke="#000" stroke-width="0.3" font-weight="600" textLength="78.54" lengthAdjust="spacing" x="468.79" y="64.60">基金规模_</text>
<text id="h5b" font-family='"Liberation Serif","Noto Serif CJK SC",serif' font-size="16.2" fill="#000" stroke="#000" stroke-width="0.3" font-weight="600" x="499.20" y="85.50">亿</text>
<text id="h6a" font-family='"Liberation Serif","Noto Serif CJK SC",serif' font-size="16.2" fill="#000" stroke="#000" stroke-width="0.3" font-weight="600" textLength="70.26" lengthAdjust="spacing" x="582.91" y="64.60">重仓基金</text>
<text id="h6b" font-family='"Liberation Serif","Noto Serif CJK SC",serif' font-size="16.2" fill="#000" stroke="#000" stroke-width="0.3" font-weight="600" textLength="36.00" lengthAdjust="spacing" x="599.51" y="85.50">数量</text>
<text id="h7a" font-family='"Liberation Serif","Noto Serif CJK SC",serif' font-size="16.2" fill="#000" stroke="#000" stroke-width="0.3" font-weight="600" textLength="70.93" lengthAdjust="spacing" x="692.86" y="64.60">重仓份额</text>
<text id="h7b" font-family='"Liberation Serif","Noto Serif CJK SC",serif' font-size="16.2" fill="#000" stroke="#000" stroke-width="0.3" font-weight="600" textLength="49.05" lengthAdjust="spacing" x="703.99" y="85.50">(万份)</text>
<text id="h8a" font-family='"Liberation Serif","Noto Serif CJK SC",serif' font-size="16.2" fill="#000" stroke="#000" stroke-width="0.3" font-weight="600" textLength="88.31" lengthAdjust="spacing" x="795.94" y="64.60">季度重仓变</text>
<text id="h8b" font-family='"Liberation Serif","Noto Serif CJK SC",serif' font-size="16.2" fill="#000" stroke="#000" stroke-width="0.3" font-weight="600" textLength="65.25" lengthAdjust="spacing" x="807.30" y="85.50">动(万份)</text>
<text id="h9a" font-family='"Liberation Serif","Noto Serif CJK SC",serif' font-size="16.2" fill="#000" stroke="#000" stroke-width="0.3" font-weight="600" textLength="69.80" lengthAdjust="spacing" x="915.00" y="64.60">重仓市值</text>
<text id="h9b" font-family='"Liberation Serif","Noto Serif CJK SC",serif' font-size="16.2" fill="#000" stroke="#000" stroke-width="0.3" font-weight="600" textLength="49.05" lengthAdjust="spacing" x="924.99" y="85.50">(万元)</text>
<text id="r0n0" font-family='"Liberation Serif","Noto Serif CJK SC",serif' font-size="17.3" fill="#000" stroke="#000" stroke-width="0.2" textLength="71.49" lengthAdjust="spacing" x="38.04" y="118.70">2025/9/30</text>
<text id="r0n1" font-family='"Liberation Serif","Noto Serif CJK SC",serif' font-size="17.3" fill="#000" stroke="#000" stroke-width="0.2" textLength="50.31" lengthAdjust="spacing" x="482.12" y="118.70">104.24</text>
<text id="r0n2" font-family='"Liberation Serif","Noto Serif CJK SC",serif' font-size="17.3" fill="#000" stroke="#000" stroke-width="0.2" textLength="18.15" lengthAdjust="spacing" x="608.16" y="118.70">26</text>
<text id="r0n3" font-family='"Liberation Serif","Noto Serif CJK SC",serif' font-size="17.3" fill="#000" stroke="#000" stroke-width="0.2" textLength="66.20" lengthAdjust="spacing" x="695.90" y="118.70">24957.71</text>
<text id="r0n4" font-family='"Liberation Serif","Noto Serif CJK SC",serif' font-size="17.3" fill="#000" stroke="#000" stroke-width="0.2" textLength="63.04" lengthAdjust="spacing" x="808.48" y="118.70">-3950.18</text>
<text id="r0n5" font-family='"Liberation Serif","Noto Serif CJK SC",serif' font-size="17.3" fill="#000" stroke="#000" stroke-width="0.2" textLength="67.16" lengthAdjust="spacing" x="916.98" y="118.70">21351.68</text>
<text id="r0c1" font-family='"Liberation Serif","Noto Serif CJK SC",serif' font-size="15.5" fill="#000" textLength="98.74" lengthAdjust="spacing" x="142.68" y="118.40">富国稳健增长</text>
<text id="r0c2" font-family='"Liberation Serif","Noto Serif CJK SC",serif' font-size="15.5" fill="#000" textLength="65.71" lengthAdjust="spacing" x="268.56" y="118.40">偏股混合</text>
<text id="r0c3" font-family='"Liberation Serif","Noto Serif CJK SC",serif' font-size="15.5" fill="#000" textLength="32.60" lengthAdjust="spacing" x="386.89" y="118.40">范妍</text>
<text id="r1n0" font-family='"Liberation Serif","Noto Serif CJK SC",serif' font-size="17.3" fill="#000" stroke="#000" stroke-width="0.2" textLength="71.49" lengthAdjust="spacing" x="38.04" y="152.40">2025/6/30</text>
<text id="r1n1" font-family='"Liberation Serif","Noto Serif CJK SC",serif' font-size="17.3" fill="#000" stroke="#000" stroke-width="0.2" textLength="40.36" lengthAdjust="spacing" x="487.19" y="152.40">76.11</text>
<text id="r1n2" font-family='"Liberation Serif","Noto Serif CJK SC",serif' font-size="17.3" fill="#000" stroke="#000" stroke-width="0.2" textLength="17.82" lengthAdjust="spacing" x="608.19" y="152.40">30</text>
<text id="r1n3" font-family='"Liberation Serif","Noto Serif CJK SC",serif' font-size="17.3" fill="#000" stroke="#000" stroke-width="0.2" textLength="66.77" lengthAdjust="spacing" x="696.02" y="152.40">38436.17</text>
<text id="r1n4" font-family='"Liberation Serif","Noto Serif CJK SC",serif' font-size="17.3" fill="#000" stroke="#000" stroke-width="0.2" textLength="56.90" lengthAdjust="spacing" x="809.18" y="152.40">9896.51</text>
<text id="r1n5" font-family='"Liberation Serif","Noto Serif CJK SC",serif' font-size="17.3" fill="#000" stroke="#000" stroke-width="0.2" textLength="66.97" lengthAdjust="spacing" x="916.98" y="152.40">26415.86</text>
<text id="r1c1" font-family='"Liberation Serif","Noto Serif CJK SC",serif' font-size="15.5" fill="#000" textLength="98.74" lengthAdjust="spacing" x="142.68" y="152.10">富国稳健增长</text>
<text id="r1c2" font-family='"Liberation Serif","Noto Serif CJK SC",serif' font-size="15.5" fill="#000" textLength="65.71" lengthAdjust="spacing" x="268.56" y="152.10">偏股混合</text>
<text id="r1c3" font-family='"Liberation Serif","Noto Serif CJK SC",serif' font-size="15.5" fill="#000" textLength="32.60" lengthAdjust="spacing" x="386.89" y="152.10">范妍</text>
<text id="r2n0" font-family='"Liberation Serif","Noto Serif CJK SC",serif' font-size="17.3" fill="#000" stroke="#000" stroke-width="0.2" textLength="71.05" lengthAdjust="spacing" x="38.04" y="186.10">2025/3/31</text>
<text id="r2n1" font-family='"Liberation Serif","Noto Serif CJK SC",serif' font-size="17.3" fill="#000" stroke="#000" stroke-width="0.2" textLength="40.34" lengthAdjust="spacing" x="487.19" y="186.10">74.61</text>
<text id="r2n2" font-family='"Liberation Serif","Noto Serif CJK SC",serif' font-size="17.3" fill="#000" stroke="#000" stroke-width="0.2" textLength="17.99" lengthAdjust="spacing" x="608.14" y="186.10">29</text>
<text id="r2n3" font-family='"Liberation Serif","Noto Serif CJK SC",serif' font-size="17.3" fill="#000" stroke="#000" stroke-width="0.2" textLength="66.86" lengthAdjust="spacing" x="696.02" y="186.10">36915.09</text>
<text id="r2n4" font-family='"Liberation Serif","Noto Serif CJK SC",serif' font-size="17.3" fill="#000" stroke="#000" stroke-width="0.2" textLength="66.43" lengthAdjust="spacing" x="806.72" y="186.10">21318.40</text>
<text id="r2n5" font-family='"Liberation Serif","Noto Serif CJK SC",serif' font-size="17.3" fill="#000" stroke="#000" stroke-width="0.2" textLength="67.12" lengthAdjust="spacing" x="916.98" y="186.10">24888.82</text>
<text id="r2c1" font-family='"Liberation Serif","Noto Serif CJK SC",serif' font-size="15.5" fill="#000" textLength="98.74" lengthAdjust="spacing" x="142.68" y="185.80">富国稳健增长</text>
<text id="r2c2" font-family='"Liberation Serif","Noto Serif CJK SC",serif' font-size="15.5" fill="#000" textLength="65.71" lengthAdjust="spacing" x="268.56" y="185.80">偏股混合</text>
<text id="r2c3" font-family='"Liberation Serif","Noto Serif CJK SC",serif' font-size="15.5" fill="#000" textLength="32.60" lengthAdjust="spacing" x="386.89" y="185.80">范妍</text>
<text id="s1a" font-family='"Liberation Serif","Noto Serif CJK SC",serif' font-size="16.3" fill="#000" font-style="italic" textLength="65.83" lengthAdjust="spacing" x="28.62" y="221.50">数据来源</text>
<text id="s1b" font-family='"Liberation Serif","Noto Serif CJK SC",serif' font-size="16.3" fill="#000" font-style="italic" x="95.60" y="221.50">：</text>
<text id="s1c" font-family='"Liberation Serif","Noto Serif CJK SC",serif' font-size="16.3" fill="#000" stroke="#000" stroke-width="0.2" font-style="italic" textLength="34.36" lengthAdjust="spacing" x="114.38" y="221.50">Wind</text>
<text id="s1d" font-family='"Liberation Serif","Noto Serif CJK SC",serif' font-size="16.3" fill="#000" font-style="italic" x="152.45" y="221.50">，</text>
<text id="s1e" font-family='"Liberation Serif","Noto Serif CJK SC",serif' font-size="16.3" fill="#000" font-style="italic" textLength="98.28" lengthAdjust="spacing" x="167.15" y="221.50">中信建投证券</text>
<text id="s2a" font-family='"Liberation Serif","Noto Serif CJK SC",serif' font-size="16.3" fill="#000" font-style="italic" textLength="65.68" lengthAdjust="spacing" x="28.61" y="650.20">数据来源</text>
<text id="s2b" font-family='"Liberation Serif","Noto Serif CJK SC",serif' font-size="16.3" fill="#000" font-style="italic" x="95.60" y="650.20">：</text>
<text id="s2c" font-family='"Liberation Serif","Noto Serif CJK SC",serif' font-size="16.3" fill="#000" stroke="#000" stroke-width="0.2" font-style="italic" textLength="34.16" lengthAdjust="spacing" x="114.32" y="650.20">Wind</text>
<text id="s2d" font-family='"Liberation Serif","Noto Serif CJK SC",serif' font-size="16.3" fill="#000" font-style="italic" x="150.51" y="650.20">、</text>
<text id="s2e" font-family='"Liberation Serif","Noto Serif CJK SC",serif' font-size="16.3" fill="#000" font-style="italic" textLength="179.57" lengthAdjust="spacing" x="166.76" y="650.20">中信建投智研多资产配置</text>
<text id="s2f" font-family='"Liberation Serif","Noto Serif CJK SC",serif' font-size="16.3" fill="#000" stroke="#000" stroke-width="0.2" font-style="italic" x="347.07" y="650.20">+</text>
<text id="s2g" font-family='"Liberation Serif","Noto Serif CJK SC",serif' font-size="16.3" fill="#000" font-style="italic" textLength="34.15" lengthAdjust="spacing" x="357.73" y="650.20">平台</text>
<text id="s2h" font-family='"Liberation Serif","Noto Serif CJK SC",serif' font-size="16.3" fill="#000" font-style="italic" x="391.86" y="650.20">（</text>
<text id="s2i" font-family='"Liberation Serif","Noto Serif CJK SC",serif' font-size="16.3" fill="#000" stroke="#000" stroke-width="0.2" font-style="italic" textLength="151.59" lengthAdjust="spacing" x="409.18" y="650.20">https://fund.csc.com.cn</text>
<text id="s2j" font-family='"Liberation Serif","Noto Serif CJK SC",serif' font-size="16.3" fill="#000" font-style="italic" x="561.17" y="650.20">）</text>
<text id="s2k" font-family='"Liberation Serif","Noto Serif CJK SC",serif' font-size="16.3" fill="#000" font-style="italic" x="577.02" y="650.20">，</text>
<text id="s2l" font-family='"Liberation Serif","Noto Serif CJK SC",serif' font-size="16.3" fill="#000" font-style="italic" textLength="98.45" lengthAdjust="spacing" x="592.76" y="650.20">中信建投证券</text>
<text id="y0" font-family='"Liberation Sans","Noto Sans CJK SC",sans-serif' font-size="10.0" fill="#505050" textLength="24.47" lengthAdjust="spacing" x="31.68" y="355.00">300%</text>
<text id="y1" font-family='"Liberation Sans","Noto Sans CJK SC",sans-serif' font-size="10.0" fill="#505050" textLength="24.43" lengthAdjust="spacing" x="31.71" y="386.00">250%</text>
<text id="y2" font-family='"Liberation Sans","Noto Sans CJK SC",sans-serif' font-size="10.0" fill="#505050" textLength="24.43" lengthAdjust="spacing" x="31.71" y="417.00">200%</text>
<text id="y3" font-family='"Liberation Sans","Noto Sans CJK SC",sans-serif' font-size="10.0" fill="#505050" textLength="24.76" lengthAdjust="spacing" x="31.42" y="448.00">150%</text>
<text id="y4" font-family='"Liberation Sans","Noto Sans CJK SC",sans-serif' font-size="10.0" fill="#505050" textLength="24.76" lengthAdjust="spacing" x="31.42" y="479.00">100%</text>
<text id="y5" font-family='"Liberation Sans","Noto Sans CJK SC",sans-serif' font-size="10.0" fill="#505050" textLength="19.29" lengthAdjust="spacing" x="36.89" y="510.00">50%</text>
<text id="y6" font-family='"Liberation Sans","Noto Sans CJK SC",sans-serif' font-size="10.0" fill="#505050" textLength="13.57" lengthAdjust="spacing" x="42.50" y="542.00">0%</text>
<text id="y7" font-family='"Liberation Sans","Noto Sans CJK SC",sans-serif' font-size="10.0" fill="#505050" textLength="22.63" lengthAdjust="spacing" x="33.63" y="573.00">-50%</text>
<text id="x0" font-family='"Liberation Sans","Noto Sans CJK SC",sans-serif' font-size="10.0" fill="#505050" textLength="51.68" lengthAdjust="spacing" x="36.25" y="583.00">2016-01-25</text>
<text id="x1" font-family='"Liberation Sans","Noto Sans CJK SC",sans-serif' font-size="10.0" fill="#505050" textLength="51.36" lengthAdjust="spacing" x="103.65" y="583.00">2017-08-10</text>
<text id="x2" font-family='"Liberation Sans","Noto Sans CJK SC",sans-serif' font-size="10.0" fill="#505050" textLength="51.16" lengthAdjust="spacing" x="170.93" y="583.00">2019-02-28</text>
<text id="x3" font-family='"Liberation Sans","Noto Sans CJK SC",sans-serif' font-size="10.0" fill="#505050" textLength="51.59" lengthAdjust="spacing" x="237.98" y="583.00">2020-09-10</text>
<text id="x4" font-family='"Liberation Sans","Noto Sans CJK SC",sans-serif' font-size="10.0" fill="#505050" textLength="51.95" lengthAdjust="spacing" x="304.78" y="583.00">2022-04-01</text>
<text id="x5" font-family='"Liberation Sans","Noto Sans CJK SC",sans-serif' font-size="10.0" fill="#505050" textLength="51.71" lengthAdjust="spacing" x="372.25" y="583.00">2023-10-23</text>
<text id="x6" font-family='"Liberation Sans","Noto Sans CJK SC",sans-serif' font-size="10.0" fill="#505050" textLength="51.17" lengthAdjust="spacing" x="439.68" y="583.00">2025-05-14</text>
<text id="lgA" font-family='"Liberation Sans","Noto Sans CJK SC",sans-serif' font-size="9.6" fill="#505050" textLength="19.82" lengthAdjust="spacing" x="231.97" y="604.20">范妍</text>
<text id="lgB" font-family='"Liberation Sans","Noto Sans CJK SC",sans-serif' font-size="9.6" fill="#505050" textLength="36.06" lengthAdjust="spacing" x="284.80" y="604.20">沪深300</text>
<text id="ph1" font-family='"Liberation Sans","Noto Sans CJK SC",sans-serif' font-size="9.5" fill="#3a3a3a" font-weight="500" textLength="19.86" lengthAdjust="spacing" x="764.00" y="360.20">行业</text>
<text id="ph2" font-family='"Liberation Sans","Noto Sans CJK SC",sans-serif' font-size="9.5" fill="#3a3a3a" font-weight="500" textLength="48.83" lengthAdjust="spacing" x="938.04" y="360.20">占净资产比</text>
<text id="pl0" font-family='"Liberation Sans","Noto Sans CJK SC",sans-serif' font-size="9.5" fill="#4a4a4a" textLength="39.10" lengthAdjust="spacing" x="779.16" y="389.00">电力设备</text>
<text id="pp0" font-family='"Liberation Sans","Noto Sans CJK SC",sans-serif' font-size="10.0" fill="#4a4a4a" textLength="33.51" lengthAdjust="spacing" x="948.44" y="389.00">14.12%</text>
<text id="pl1" font-family='"Liberation Sans","Noto Sans CJK SC",sans-serif' font-size="9.5" fill="#4a4a4a" textLength="20.61" lengthAdjust="spacing" x="779.16" y="409.00">电子</text>
<text id="pp1" font-family='"Liberation Sans","Noto Sans CJK SC",sans-serif' font-size="10.0" fill="#4a4a4a" textLength="33.49" lengthAdjust="spacing" x="948.44" y="409.00">11.63%</text>
<text id="pl2" font-family='"Liberation Sans","Noto Sans CJK SC",sans-serif' font-size="9.5" fill="#4a4a4a" textLength="39.12" lengthAdjust="spacing" x="779.17" y="428.00">医药生物</text>
<text id="pp2" font-family='"Liberation Sans","Noto Sans CJK SC",sans-serif' font-size="10.0" fill="#4a4a4a" textLength="33.51" lengthAdjust="spacing" x="948.44" y="429.00">10.99%</text>
<text id="pl3" font-family='"Liberation Sans","Noto Sans CJK SC",sans-serif' font-size="9.5" fill="#4a4a4a" textLength="38.91" lengthAdjust="spacing" x="779.45" y="448.00">国防军工</text>
<text id="pp3" font-family='"Liberation Sans","Noto Sans CJK SC",sans-serif' font-size="10.0" fill="#4a4a4a" textLength="27.44" lengthAdjust="spacing" x="954.56" y="448.00">6.34%</text>
<text id="pl4" font-family='"Liberation Sans","Noto Sans CJK SC",sans-serif' font-size="9.5" fill="#4a4a4a" textLength="20.78" lengthAdjust="spacing" x="779.12" y="468.00">汽车</text>
<text id="pp4" font-family='"Liberation Sans","Noto Sans CJK SC",sans-serif' font-size="10.0" fill="#4a4a4a" textLength="27.24" lengthAdjust="spacing" x="954.71" y="468.00">4.94%</text>
<text id="pl5" font-family='"Liberation Sans","Noto Sans CJK SC",sans-serif' font-size="9.5" fill="#4a4a4a" textLength="28.80" lengthAdjust="spacing" x="779.58" y="488.00">计算机</text>
<text id="pp5" font-family='"Liberation Sans","Noto Sans CJK SC",sans-serif' font-size="10.0" fill="#4a4a4a" textLength="27.24" lengthAdjust="spacing" x="954.71" y="488.00">4.20%</text>
<text id="pl6" font-family='"Liberation Sans","Noto Sans CJK SC",sans-serif' font-size="9.5" fill="#4a4a4a" textLength="39.02" lengthAdjust="spacing" x="779.42" y="507.00">家用电器</text>
<text id="pp6" font-family='"Liberation Sans","Noto Sans CJK SC",sans-serif' font-size="10.0" fill="#4a4a4a" textLength="27.94" lengthAdjust="spacing" x="954.07" y="508.00">3.26%</text>
<text id="pl7" font-family='"Liberation Sans","Noto Sans CJK SC",sans-serif' font-size="9.5" fill="#4a4a4a" textLength="39.22" lengthAdjust="spacing" x="779.22" y="527.00">基础化工</text>
<text id="pp7" font-family='"Liberation Sans","Noto Sans CJK SC",sans-serif' font-size="10.0" fill="#4a4a4a" textLength="28.05" lengthAdjust="spacing" x="954.07" y="527.00">3.11%</text>
<text id="pl8" font-family='"Liberation Sans","Noto Sans CJK SC",sans-serif' font-size="9.5" fill="#4a4a4a" textLength="20.10" lengthAdjust="spacing" x="779.61" y="547.00">通信</text>
<text id="pp8" font-family='"Liberation Sans","Noto Sans CJK SC",sans-serif' font-size="10.0" fill="#4a4a4a" textLength="27.42" lengthAdjust="spacing" x="954.58" y="547.00">2.61%</text>
<text id="pl9" font-family='"Liberation Sans","Noto Sans CJK SC",sans-serif' font-size="9.5" fill="#4a4a4a" textLength="20.16" lengthAdjust="spacing" x="779.39" y="566.00">钢铁</text>
<text id="pp9" font-family='"Liberation Sans","Noto Sans CJK SC",sans-serif' font-size="10.0" fill="#4a4a4a" textLength="27.42" lengthAdjust="spacing" x="954.58" y="567.00">2.47%</text>
<text id="pl10" font-family='"Liberation Sans","Noto Sans CJK SC",sans-serif' font-size="9.5" fill="#4a4a4a" textLength="29.54" lengthAdjust="spacing" x="779.63" y="586.00">房地产</text>
<text id="pp10" font-family='"Liberation Sans","Noto Sans CJK SC",sans-serif' font-size="10.0" fill="#4a4a4a" textLength="27.42" lengthAdjust="spacing" x="954.58" y="586.00">2.44%</text>
<text id="pl11" font-family='"Liberation Sans","Noto Sans CJK SC",sans-serif' font-size="9.5" fill="#4a4a4a" textLength="39.39" lengthAdjust="spacing" x="779.42" y="606.00">建筑材料</text>
<text id="pp11" font-family='"Liberation Sans","Noto Sans CJK SC",sans-serif' font-size="10.0" fill="#4a4a4a" textLength="27.97" lengthAdjust="spacing" x="954.21" y="606.00">1.90%</text>
</g>
</svg></body></html>
